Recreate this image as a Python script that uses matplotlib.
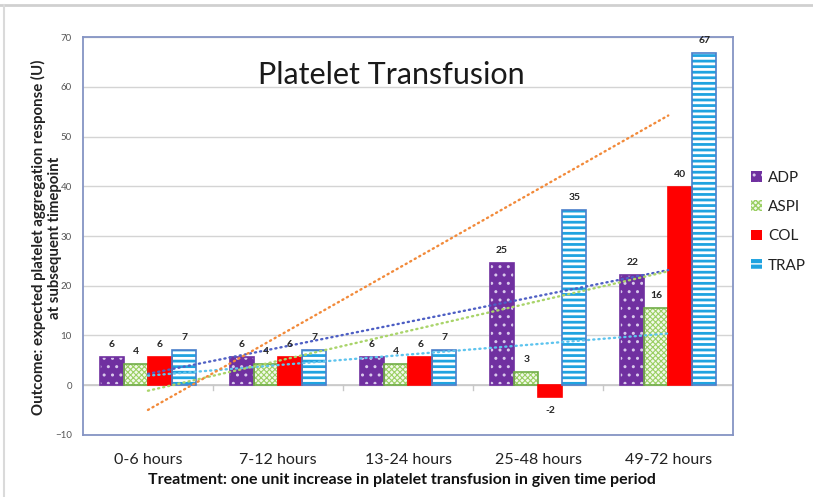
import matplotlib
matplotlib.use('Agg')
import matplotlib.pyplot as plt
import matplotlib.lines as mlines
import numpy as np

plt.rcParams['font.family'] = ['Lato', 'DejaVu Sans']

# ── Data ─────────────────────────────────────────────────────────────────────
periods = ['0-6 hours', '7-12 hours', '13-24 hours', '25-48 hours', '49-72 hours']
adp  = [5.6, 5.6, 5.6, 24.6, 22.2]
aspi = [4.2, 4.2, 4.2, 2.6, 15.6]
col  = [5.7, 5.7, 5.7, -2.4, 39.8]
trap = [7.0, 7.0, 7.0, 35.3, 66.9]

# name, values, face, hatch, hatch colour, edge
series = [
    ('ADP',  adp,  '#7030A0', '..',     '#D9C8EC', '#7030A0'),
    ('ASPI', aspi, '#F2F9EA', 'xxxxxx', '#9ACF63', '#70AD47'),
    ('COL',  col,  '#FF0000', None,     '#FF0000', '#FF0000'),
    ('TRAP', trap, '#1FA3E0', '---',    '#FFFFFF', '#4A7FCB'),
]
hatch_lw = {'ADP': 1.0, 'ASPI': 0.8, 'COL': 1.0, 'TRAP': 2.0}
trend_colors = {'ADP': '#4E5FC4', 'ASPI': '#5EC4EE', 'COL': '#A9D46A', 'TRAP': '#F28A3A'}

fig = plt.figure(figsize=(8.13, 4.97), dpi=100)
fig.patch.set_facecolor('white')
ax = fig.add_axes([0.102, 0.125, 0.800, 0.800])

x = np.arange(len(periods))
w = 0.185
offsets = [-1.5 * w, -0.5 * w, 0.5 * w, 1.5 * w]

for (name, vals, face, hatch, hcol, edge), off in zip(series, offsets):
    with plt.rc_context({'hatch.linewidth': hatch_lw[name], 'hatch.color': hcol}):
        ax.bar(x + off, vals, w, color=face, hatch=hatch, edgecolor=hcol,
               linewidth=0, zorder=3)
    ax.bar(x + off, vals, w, facecolor='none', edgecolor=edge, linewidth=1.2,
           zorder=4)
    for xi, v in zip(x + off, vals):
        if v >= 0:
            ax.text(xi, v + 1.6, f'{v:.0f}', ha='center', va='bottom',
                    fontsize=7.5, fontweight='bold', color='#262626', zorder=6)
        else:
            ax.text(xi, v - 1.8, f'{v:.0f}', ha='center', va='top',
                    fontsize=7.5, fontweight='bold', color='#262626', zorder=6)

# linear trendlines
for name, vals, *_ in series:
    k, b = np.polyfit(x, vals, 1)
    ax.plot(x, k * x + b, linestyle=(0, (0.5, 1.7)), dash_capstyle='round',
            color=trend_colors[name], lw=1.7, zorder=5)

# axes styling
ax.set_xlim(-0.5, 4.5)
ax.set_ylim(-10, 70)
ax.set_yticks(np.arange(-10, 71, 10))
ax.yaxis.grid(True, color='#D4D4D4', lw=1.0, zorder=0)
ax.set_axisbelow(True)
ax.axhline(0, color='#C8C8C8', lw=1.2, zorder=2)
for bx in np.arange(0.5, 4.5, 1):
    ax.plot([bx, bx], [0, -1.0], color='#C8C8C8', lw=1.0, zorder=2)
for sp in ax.spines.values():
    sp.set_color('#8594C4')
    sp.set_linewidth(1.3)
ax.tick_params(axis='y', length=0, labelsize=7, labelcolor='#555555', pad=8)
ax.tick_params(axis='x', length=0)
ax.set_xticks([])

for xi, p in zip(x, periods):
    fig.text(0.102 + 0.8 * (xi + 0.5) / 5, 0.074, p, ha='center', va='center',
             fontsize=11.5, color='#222222')
fig.text(0.495, 0.034,
         'Treatment: one unit increase in platelet transfusion in given time period',
         ha='center', va='center', fontsize=11.5, fontweight='bold', color='#111111')

fig.text(0.057, 0.522,
         'Outcome: expected platelet aggregation response (U)\nat subsequent timepoint',
         rotation=90, ha='center', va='center', fontsize=10.8, fontweight='bold',
         color='#222222', linespacing=1.2)

ax.text(0.474, 0.905, 'Platelet Transfusion', transform=ax.transAxes,
        ha='center', va='center', fontsize=22, color='#1a1a1a')

# legend
handles = []
for name, vals, face, hatch, hcol, edge in series:
    with plt.rc_context({'hatch.color': hcol, 'hatch.linewidth': hatch_lw[name]}):
        h = ax.bar([0], [0], 0, color=face, hatch=hatch, edgecolor=hcol,
                   label=name, linewidth=0)
    handles.append(h)
leg = fig.legend(handles=handles, labels=[s[0] for s in series],
                 loc='center left', bbox_to_anchor=(0.907, 0.554),
                 frameon=False, fontsize=11, handlelength=0.7, handleheight=0.7,
                 handletextpad=0.4, labelspacing=1.0)
for t in leg.get_texts():
    t.set_color('#222222')

# outer frame of the chart area
fig.add_artist(mlines.Line2D([0, 1], [0.99, 0.99], color='#D0D0D0', lw=2,
                             transform=fig.transFigure))
fig.add_artist(mlines.Line2D([0.005, 0.005], [0, 0.99], color='#DADADA', lw=1.5,
                             transform=fig.transFigure))

fig.savefig('out.png', dpi=100, facecolor='white')
